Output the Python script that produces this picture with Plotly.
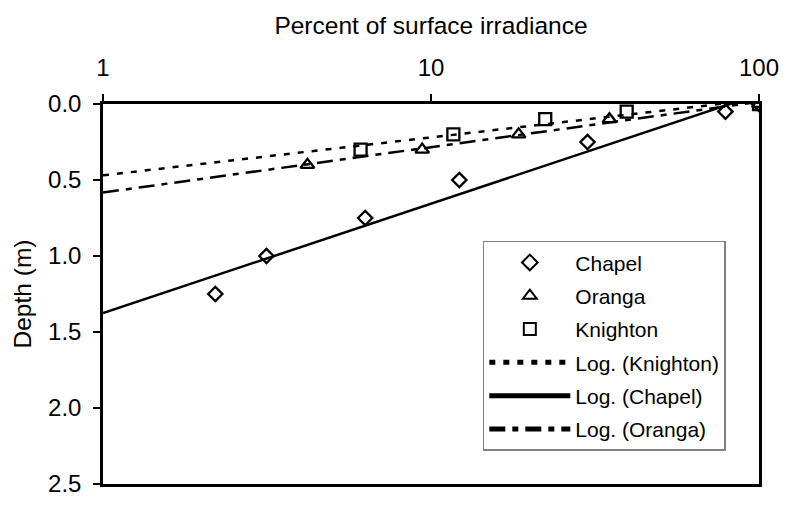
import numpy as np
import plotly.graph_objects as go

# Light level (% of surface irradiance) measured at each depth (m)
chapel_pct = [100, 79, 30, 12.2, 6.3, 3.15, 2.2]
chapel_depth = [0.0, 0.05, 0.25, 0.5, 0.75, 1.0, 1.25]

oranga_pct = [100, 35, 18.5, 9.4, 4.2]
oranga_depth = [0.0, 0.1, 0.2, 0.3, 0.4]

knighton_pct = [100, 39.5, 22.3, 11.7, 6.1]
knighton_depth = [0.0, 0.05, 0.1, 0.2, 0.3]

x_ticks = [1, 10, 100]
y_ticks = [0.0, 0.5, 1.0, 1.5, 2.0, 2.5]

FONT = "Liberation Sans, Arial, sans-serif"


def log_trend(pct, depth):
    """Least-squares fit depth = a*ln(pct) + b, evaluated over 1..100 %."""
    a, b = np.polyfit(np.log(pct), depth, 1)
    xs = np.logspace(0, 2, 200)
    return xs, a * np.log(xs) + b


fig = go.Figure()

marker_line = dict(color="black", width=2.3)
fig.add_trace(go.Scatter(x=chapel_pct, y=chapel_depth, mode="markers", name="Chapel",
                         legendgroup="g1",
                         marker=dict(symbol="diamond-open", size=11, line=marker_line, color="black")))
fig.add_trace(go.Scatter(x=oranga_pct, y=oranga_depth, mode="markers", name="Oranga",
                         legendgroup="g2",
                         marker=dict(symbol="triangle-up-open", size=12, line=marker_line, color="black")))
fig.add_trace(go.Scatter(x=knighton_pct, y=knighton_depth, mode="markers", name="Knighton",
                         legendgroup="g3",
                         marker=dict(symbol="square-open", size=12, line=marker_line, color="black")))

for i, (pct, depth, name, dash) in enumerate([
    (knighton_pct, knighton_depth, "Log. (Knighton)", "6px,8px"),
    (chapel_pct, chapel_depth, "Log. (Chapel)", "solid"),
    (oranga_pct, oranga_depth, "Log. (Oranga)", "16px,7px,6px,7px"),
]):
    xs, ys = log_trend(pct, depth)
    fig.add_trace(go.Scatter(x=xs, y=ys, mode="lines", name=name,
                             legendgroup="t%d" % i,
                             line=dict(color="black", width=2.5, dash=dash)))

fig.update_layout(
    width=790, height=508,
    margin=dict(l=103, r=26, t=104, b=11),
    paper_bgcolor="white", plot_bgcolor="white",
    font=dict(family=FONT, size=24, color="black"),
    showlegend=True,
    legend=dict(
        x=0.579, y=0.64, xanchor="left", yanchor="top",
        bgcolor="white", bordercolor="#808080", borderwidth=1.5,
        font=dict(family=FONT, size=21, color="black"),
        itemsizing="constant", itemwidth=81, tracegroupgap=3,
    ),
)

fig.update_xaxes(
    type="log", range=[0, 2], side="top",
    tickvals=x_ticks, ticktext=[str(v) for v in x_ticks],
    tickfont=dict(size=24),
    ticks="outside", ticklen=7, tickwidth=1.5, tickcolor="black",
    ticklabelstandoff=9,
    showline=True, linewidth=2.5, linecolor="black", mirror=True,
    showgrid=False, zeroline=False,
    title=dict(text="Percent of surface irradiance", standoff=13,
               font=dict(family=FONT, size=24.5)),
)
fig.update_yaxes(
    range=[2.5, 0], tickvals=y_ticks, tickformat=".1f",
    tickfont=dict(size=24),
    ticks="outside", ticklen=7, tickwidth=1.5, tickcolor="black",
    ticklabelstandoff=7,
    showline=True, linewidth=2.5, linecolor="black", mirror=True,
    showgrid=False, zeroline=False,
    title=dict(text="Depth (m)", standoff=10, font=dict(family=FONT, size=24.5)),
)

fig.write_html("out.html")
